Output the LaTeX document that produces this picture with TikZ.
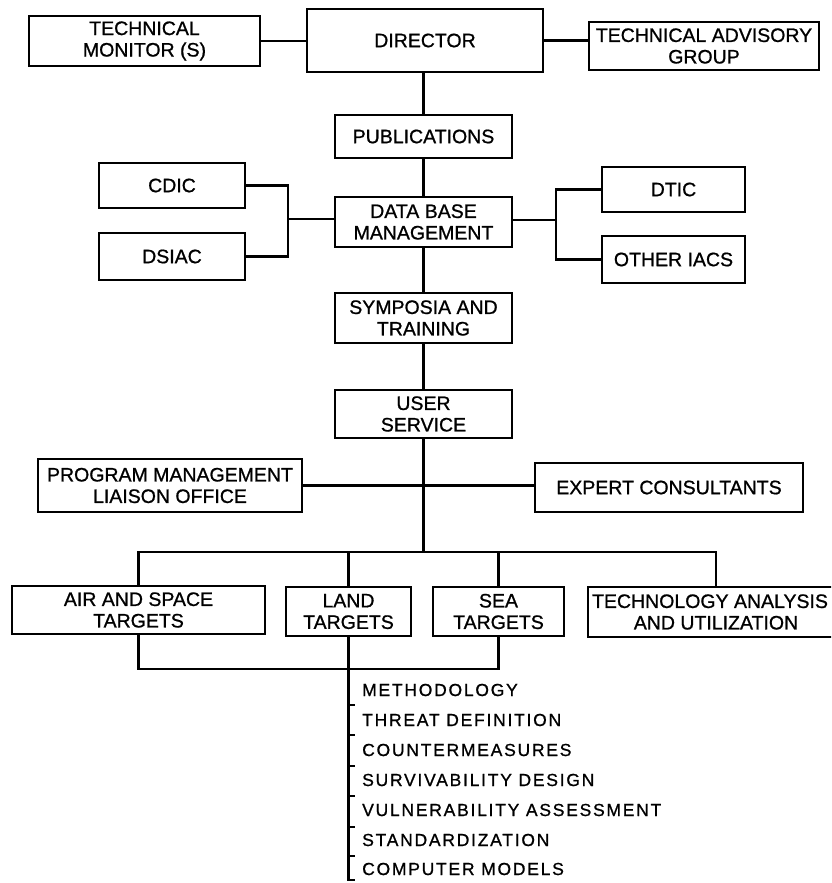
\documentclass[tikz,border=0pt]{standalone}
\usepackage{fontspec}
\setmainfont{Liberation Sans}
\newfontfamily\boxfont[FakeBold=0.9]{Liberation Sans}
\newfontfamily\listfont[LetterSpace=10,FakeBold=0.9]{Liberation Sans}
\begin{document}
\begin{tikzpicture}[x=1pt,y=-1pt,
  box/.style={draw, line width=2.2pt, inner sep=0pt, align=center,
    font={\boxfont\fontsize{19.5}{21.5}\selectfont}},
  conn/.style={line width=2.3pt},
  item/.style={anchor=west, inner sep=0pt, font={\listfont\fontsize{17.5}{19}\selectfont}}]
\useasboundingbox (0,0) rectangle (831,883);
\clip (0,0) rectangle (831,883);
% top row
\node[box, minimum width=231pt, minimum height=50pt] (tm) at (144.5,41) {TECHNICAL\\MONITOR (S)};
\node[box, minimum width=236pt, minimum height=63pt] (dir) at (425,40.5) {DIRECTOR};
\node[box, minimum width=230pt, minimum height=48pt] (tag) at (704,46) {TECHNICAL ADVISORY\\GROUP};
% centre column
\node[box, minimum width=177pt, minimum height=43pt] (pub) at (423.5,136.5) {PUBLICATIONS};
\node[box, minimum width=177pt, minimum height=50pt] (dbm) at (423.5,222) {DATA BASE\\MANAGEMENT};
\node[box, minimum width=177pt, minimum height=50pt] (sym) at (423.5,318) {SYMPOSIA AND\\TRAINING};
\node[box, minimum width=177pt, minimum height=48pt] (us) at (423.5,414) {USER\\SERVICE};
% side boxes
\node[box, minimum width=146pt, minimum height=45pt] (cdic) at (172,185.5) {CDIC};
\node[box, minimum width=146pt, minimum height=47pt] (dsiac) at (172,256.5) {DSIAC};
\node[box, minimum width=143pt, minimum height=45pt] (dtic) at (673.5,189.5) {DTIC};
\node[box, minimum width=143pt, minimum height=47pt] (oiacs) at (673.5,259.5) {OTHER IACS};
\node[box, minimum width=264pt, minimum height=53pt] (pm) at (170,485.5) {PROGRAM MANAGEMENT\\LIAISON OFFICE};
\node[box, minimum width=268pt, minimum height=49pt] (ec) at (669,487.5) {EXPERT CONSULTANTS};
% target row
\node[box, minimum width=253pt, minimum height=48pt] (air) at (138.5,610) {AIR AND SPACE\\TARGETS};
\node[box, minimum width=125pt, minimum height=49pt] (land) at (348.5,611.5) {LAND\\TARGETS};
\node[box, minimum width=131pt, minimum height=49pt] (sea) at (498.5,611.5) {SEA\\TARGETS};
\node[box, minimum width=256pt, minimum height=50pt] (tech) at (716,612) {TECHNOLOGY ANALYSIS\hspace*{12pt}\\AND UTILIZATION};
% coordinates
\coordinate (lj) at (288,219);
\coordinate (rj) at (556,220);
\coordinate (bus) at (423.5,552);
\coordinate (bb) at (0,669);
\coordinate (spend) at (348.5,880);
\coordinate (hook) at (355,880);
% connectors
\draw[conn] (tm.east) -- (tm.east -| dir.west);
\draw[conn] (dir.east) -- (dir.east -| tag.west);
\draw[conn] (pub.north) -- (pub.north |- dir.south);
\draw[conn] (pub.south) -- (dbm.north);
\draw[conn] (dbm.south) -- (sym.north);
\draw[conn] (sym.south) -- (us.north);
\draw[conn] (cdic.east) -| (lj) |- (dsiac.east);
\draw[conn] (lj) -- (lj -| dbm.west);
\draw[conn] (dtic.west) -| (rj) |- (oiacs.west);
\draw[conn] (rj) -- (rj -| dbm.east);
\draw[conn] (us.south) -- (bus);
\draw[conn] (pm.east) -- (pm.east -| ec.west);
\draw[conn] (air.north) -- (air.north |- bus) -- (tech.north |- bus) -- (tech.north);
\draw[conn] (land.north) -- (land.north |- bus);
\draw[conn] (sea.north) -- (sea.north |- bus);
\draw[conn] (air.south) -- (air.south |- bb) -- (sea.south |- bb) -- (sea.south);
\draw[conn] (land.south) -- (spend) -- (hook);
\foreach \ty in {705,735,766,796,827,856}
  \draw[conn] (348.5,\ty) -- ++(6,0);
% list items
\node[item] (m1) at (362,690) {METHODOLOGY};
\node[item] (m2) at (362,720) {THREAT DEFINITION};
\node[item] (m3) at (362,750) {COUNTERMEASURES};
\node[item] (m4) at (362,780) {SURVIVABILITY DESIGN};
\node[item] (m5) at (362,810) {VULNERABILITY ASSESSMENT};
\node[item] (m6) at (362,840) {STANDARDIZATION};
\node[item] (m7) at (362,869) {COMPUTER MODELS};
\end{tikzpicture}
\end{document}
